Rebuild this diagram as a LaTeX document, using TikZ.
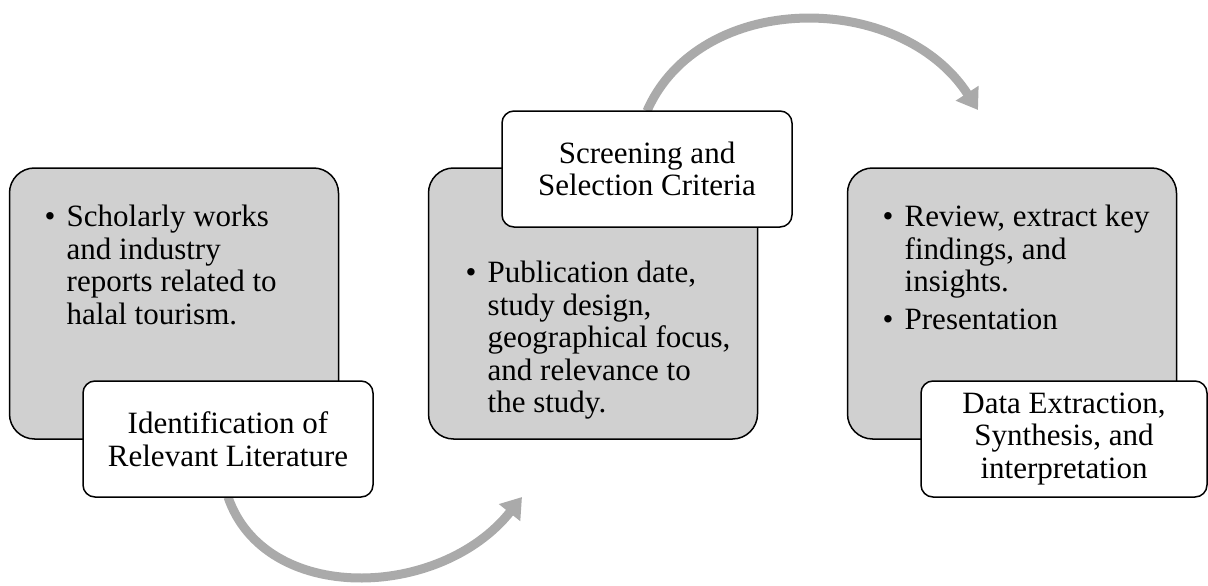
\documentclass[tikz,border=0pt]{standalone}
\usepackage{xcolor}
\usepackage{fontspec}
\setmainfont{Liberation Serif}
\usepackage{tikz}
\usetikzlibrary{positioning,arrows.meta,backgrounds}

\definecolor{panelgray}{RGB}{208,208,208}
\definecolor{sweepgray}{RGB}{170,170,170}
\newcommand{\listdot}{\makebox[22pt][l]{\textbullet}}

\begin{document}
\begin{tikzpicture}[x=1pt, y=-1pt,
    font=\fontsize{31}{32.5}\selectfont,
    panel/.style={draw, line width=1.5pt, fill=panelgray, rounded corners=25pt, minimum width=329pt, minimum height=271pt, inner sep=0pt, outer sep=0pt},
    titlebox/.style={draw, line width=1.5pt, fill=white, rounded corners=12pt, minimum width=290pt, minimum height=116pt, align=center, outer sep=0pt},
    bodytext/.style={inner sep=0pt, anchor=north west},
    sweep/.style={draw=sweepgray, line width=9pt, -{Triangle[width=26pt,length=20pt]}}]
    \useasboundingbox (0,0) rectangle (1208,586);

    % Nodes
    \node (P1) [panel] at (174,303.5) {};
    \node (P2) [panel] at (593,303.5) {};
    \node (P3) [panel] at (1012,303.5) {};

    \node (B1) [bodytext, below right=36pt and 35pt of P1.north west] {%
      \begin{tabular}{@{}l@{}l@{}}
        \listdot & Scholarly works\\
                 & and industry\\
                 & reports related to\\
                 & halal tourism.
      \end{tabular}};
    \node (B2) [bodytext, below right=92pt and 37pt of P2.north west] {%
      \begin{tabular}{@{}l@{}l@{}}
        \listdot & Publication date,\\
                 & study design,\\
                 & geographical focus,\\
                 & and relevance to\\
                 & the study.
      \end{tabular}};
    \node (B3) [bodytext, below right=36pt and 35pt of P3.north west] {%
      \begin{tabular}{@{}l@{}l@{}}
        \listdot & Review, extract key\\
                 & findings, and\\
                 & insights.\\[5pt]
        \listdot & Presentation
      \end{tabular}};

    \node (T1) [titlebox] at (228,439) {Identification of\\Relevant Literature};
    \node (T2) [titlebox] at (647,169) {Screening and\\Selection Criteria};
    \node (T3) [titlebox, minimum width=286pt] at (1064,439) {Data Extraction,\\Synthesis, and\\interpretation};

    \coordinate (E1) at (522,497);
    \coordinate (E2) at (978,110);

    % Edges
    \begin{scope}[on background layer]
      \draw[sweep] (T1.south) .. controls (265,605) and (440,600) .. (E1);
      \draw[sweep] (T2.north) .. controls (700,-10) and (900,-10) .. (E2);
    \end{scope}
\end{tikzpicture}
\end{document}
